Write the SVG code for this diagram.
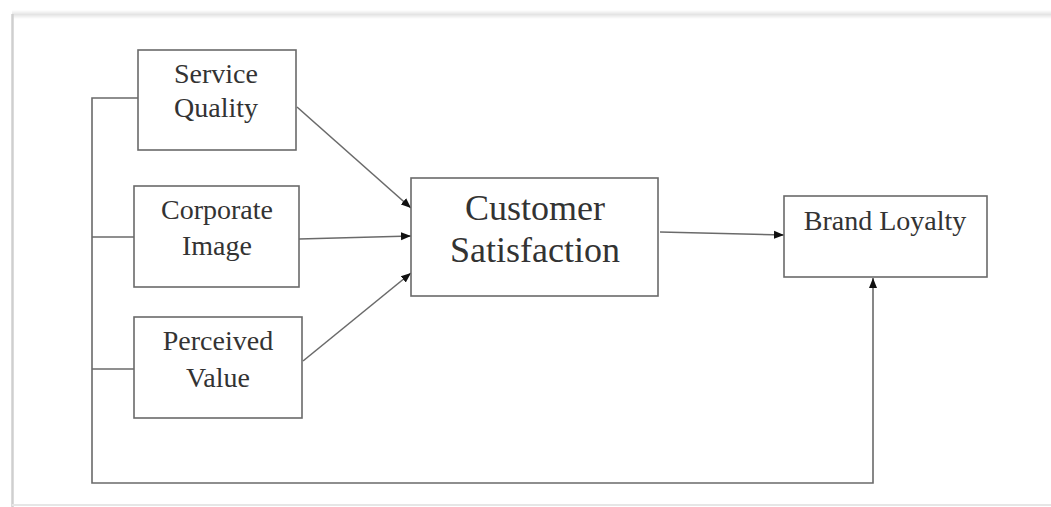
<svg xmlns="http://www.w3.org/2000/svg" width="1051" height="507" viewBox="0 0 1051 507">
<defs>
<style>
.box{fill:#fff;stroke:#6a6a6a;stroke-width:1.6}
text{font-family:'Liberation Serif','DejaVu Serif',serif;font-size:28px;fill:#333;text-anchor:middle}
.big{font-size:36px}
.con{fill:none;stroke:#6a6a6a;stroke-width:1.6}
</style>
<marker id="ah" viewBox="0 0 10 10" refX="10" refY="5" markerWidth="10" markerHeight="10" markerUnits="userSpaceOnUse" orient="auto">
<path d="M0,1 L10,5 L0,9 Z" fill="#111"/>
</marker>
<linearGradient id="topsh" x1="0" y1="0" x2="0" y2="1">
<stop offset="0" stop-color="#fff"/>
<stop offset="0.5" stop-color="#e4e4e4"/>
<stop offset="1" stop-color="#fff"/>
</linearGradient>
</defs>
<rect width="1051" height="507" fill="#fff"/>
<g id="page">
<rect x="12" y="10" width="1039" height="9" fill="url(#topsh)"/>
<line x1="12.5" y1="14" x2="12.5" y2="507" stroke="#cfcfcf" stroke-width="2.5"/>
<line x1="12" y1="505" x2="1051" y2="505" stroke="#e6e6e6" stroke-width="2"/>
</g>
<g id="connectors">
<polyline class="con" points="138,98 92,98 92,483 873,483 873,278" marker-end="url(#ah)"/>
<line class="con" x1="92" y1="237" x2="134" y2="237"/>
<line class="con" x1="92" y1="369" x2="134" y2="369"/>
<line class="con" x1="297" y1="107" x2="411" y2="208" marker-end="url(#ah)"/>
<line class="con" x1="299" y1="239" x2="411" y2="236" marker-end="url(#ah)"/>
<line class="con" x1="303" y1="361" x2="411" y2="273" marker-end="url(#ah)"/>
<line class="con" x1="660" y1="232" x2="784" y2="235" marker-end="url(#ah)"/>
</g>
<g id="service-quality">
<rect class="box" x="138" y="50" width="158" height="100"/>
<text x="216" y="83" font-family="Liberation Serif, serif">Service</text>
<text x="216" y="117" font-family="Liberation Serif, serif">Quality</text>
</g>
<g id="corporate-image">
<rect class="box" x="134" y="186" width="165" height="101"/>
<text x="217" y="219">Corporate</text>
<text x="217" y="255">Image</text>
</g>
<g id="perceived-value">
<rect class="box" x="134" y="317" width="168" height="101"/>
<text x="218" y="350">Perceived</text>
<text x="218" y="387">Value</text>
</g>
<g id="customer-satisfaction">
<rect class="box" x="411" y="178" width="247" height="118"/>
<text class="big" x="535" y="220">Customer</text>
<text class="big" x="535" y="262">Satisfaction</text>
</g>
<g id="brand-loyalty">
<rect class="box" x="784" y="196" width="203" height="81"/>
<text x="885" y="230">Brand Loyalty</text>
</g>
</svg>
